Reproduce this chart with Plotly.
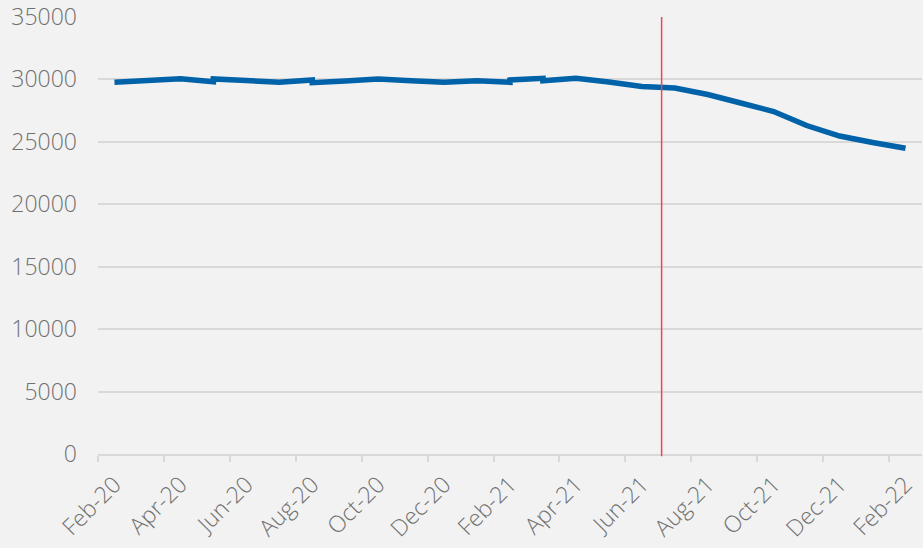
import plotly.graph_objects as go

# ---- data ----
MONTHS = ["Feb-20", "Mar-20", "Apr-20", "May-20", "Jun-20", "Jul-20", "Aug-20", "Sep-20",
          "Oct-20", "Nov-20", "Dec-20", "Jan-21", "Feb-21", "Mar-21", "Apr-21", "May-21",
          "Jun-21", "Jul-21", "Aug-21", "Sep-21", "Oct-21", "Nov-21", "Dec-21", "Jan-22", "Feb-22"]
# value at which the line arrives at each month
VALUES_IN = [29770, 29914, 30058, 29818, 29914, 29770, 29954, 29874,
             30034, 29898, 29770, 29898, 29770, 30090, 30090, 29794,
             29433, 29313, 28793, 28112, 27431, 26310, 25469, 24948, 24484]
# value at which the line leaves each month (differs where the series steps)
VALUES_OUT = [29770, 29914, 30058, 30034, 29914, 29770, 29738, 29874,
              30034, 29898, 29770, 29898, 29954, 29898, 30090, 29794,
              29433, 29313, 28793, 28112, 27431, 26310, 25469, 24948, 24484]
Y_TICKS = [0, 5000, 10000, 15000, 20000, 25000, 30000, 35000]
MARKER_MONTH = 16.6  # red reference line, in month-index units

xs, ys = [], []
for i, (vi, vo) in enumerate(zip(VALUES_IN, VALUES_OUT)):
    xs.append(i); ys.append(vi)
    if vo != vi:
        xs.append(i); ys.append(vo)

label_idx = list(range(0, len(MONTHS), 2))
font = dict(family="Open Sans", size=23, color="#707070", weight=300)

fig = go.Figure()
fig.add_trace(go.Scatter(x=xs, y=ys, mode="lines",
                         line=dict(color="#0062a8", width=5.5),
                         hoverinfo="skip", showlegend=False))

fig.add_shape(type="line", xref="x", yref="paper", x0=MARKER_MONTH, x1=MARKER_MONTH,
              y0=-0.005, y1=1, line=dict(color="#e84856", width=1.5))

fig.update_layout(
    width=923, height=548,
    margin=dict(l=98, r=1, t=17, b=94, autoexpand=False),
    paper_bgcolor="#f2f2f2", plot_bgcolor="#f2f2f2",
    font=font,
    xaxis=dict(range=[-0.5, len(MONTHS) - 0.5], tickmode="array",
               tickvals=label_idx, ticktext=[MONTHS[i] for i in label_idx],
               tickangle=-45, ticks="", showgrid=False, zeroline=False,
               showline=True, linecolor="#d9d9d9", linewidth=2,
               ticklabelstandoff=6, automargin=False,
               minor=dict(tickmode="array",
                          tickvals=[i - 0.5 for i in range(0, len(MONTHS) + 1, 2)],
                          ticks="outside", ticklen=6, tickcolor="#d9d9d9", tickwidth=2,
                          showgrid=False),
               tickfont=font),
    yaxis=dict(range=[0, 35000], tickmode="array", tickvals=Y_TICKS,
               ticktext=[str(v) for v in Y_TICKS], automargin=False,
               showgrid=True, gridcolor="#d9d9d9", gridwidth=1.5,
               zeroline=False, showline=False, ticks="",
               ticklabelstandoff=20, tickfont=font),
)

fig.write_html("out.html",
               config={"displayModeBar": False},
               post_script="document.body.style.margin='0';"
                           "document.body.style.background='#f2f2f2';")
